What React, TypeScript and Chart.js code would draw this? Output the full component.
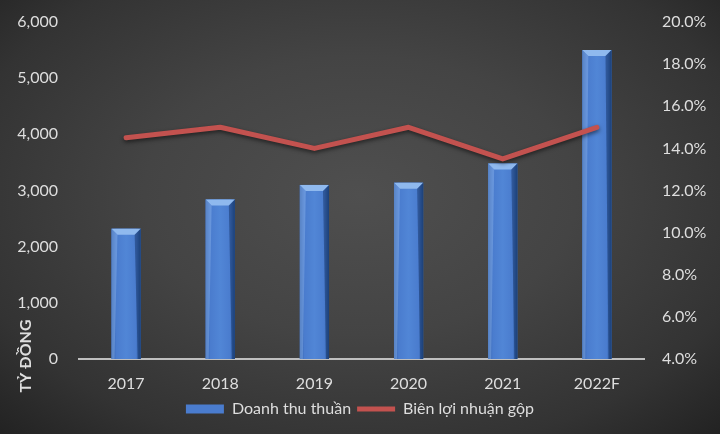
import React, { useEffect, useRef } from "react";
import { Chart, registerables } from "chart.js";

Chart.register(...registerables);

const categories = ["2017", "2018", "2019", "2020", "2021", "2022F"];
const revenue = [2320, 2840, 3100, 3140, 3480, 5500];
const grossMargin = [14.5, 15.0, 14.0, 15.0, 13.5, 15.0];
const revenueLabel = "Doanh thu thuần";
const marginLabel = "Biên lợi nhuận gộp";
const yTitle = "TỶ ĐỒNG";

const TEXT = "#dedede";
const FONT = "Lato";

const barStylePlugin = {
  id: "barStyle",
  afterDatasetDraw(chart: any, args: any) {
    if (args.index === 1) {
      chart.ctx.restore();
      return;
    }
    if (args.index !== 0) return;
    const ctx = chart.ctx;
    const meta = chart.getDatasetMeta(0);
    ctx.save();
    meta.data.forEach((el: any) => {
      const w = el.width;
      const l = el.x - w / 2;
      const r = el.x + w / 2;
      const t = el.y;
      const b = el.base;
      const g = ctx.createLinearGradient(l, 0, r, 0);
      g.addColorStop(0, "#2e5ca6");
      g.addColorStop(0.16, "#4a7cce");
      g.addColorStop(0.5, "#5186d6");
      g.addColorStop(0.84, "#4a7cce");
      g.addColorStop(1, "#24508f");
      ctx.fillStyle = g;
      ctx.fillRect(l, t, w, b - t);
      const bv = 6;
      ctx.fillStyle = "#8fb9ee";
      ctx.beginPath();
      ctx.moveTo(l, t);
      ctx.lineTo(r, t);
      ctx.lineTo(r - bv, t + bv);
      ctx.lineTo(l + bv, t + bv);
      ctx.closePath();
      ctx.fill();
      ctx.fillStyle = "rgba(140,180,235,0.45)";
      ctx.beginPath();
      ctx.moveTo(l, t);
      ctx.lineTo(l + bv, t + bv);
      ctx.lineTo(l + bv * 0.5, b);
      ctx.lineTo(l, b);
      ctx.closePath();
      ctx.fill();
      ctx.fillStyle = "rgba(20,50,100,0.5)";
      ctx.beginPath();
      ctx.moveTo(r, t);
      ctx.lineTo(r - bv, t + bv);
      ctx.lineTo(r - bv * 0.5, b);
      ctx.lineTo(r, b);
      ctx.closePath();
      ctx.fill();
    });
    ctx.restore();
  },
  beforeDatasetDraw(chart: any, args: any) {
    if (args.index !== 1) return;
    const ctx = chart.ctx;
    ctx.save();
    ctx.shadowColor = "rgba(0,0,0,0.55)";
    ctx.shadowBlur = 4;
    ctx.shadowOffsetY = 2;
  },
};

const axisDecor = {
  id: "axisDecor",
  afterDraw(chart: any) {
    const ctx = chart.ctx;
    const area = chart.chartArea;
    ctx.save();
    ctx.translate(area.left - 53, area.bottom - 3);
    ctx.rotate(-Math.PI / 2);
    ctx.font = `bold 16px ${FONT}`;
    ctx.fillStyle = TEXT;
    ctx.textAlign = "center";
    ctx.textBaseline = "middle";
    ctx.fillText(yTitle, 0, 0);
    ctx.restore();
  },
};

export default function App() {
  const ref = useRef<HTMLCanvasElement | null>(null);
  useEffect(() => {
    if (!ref.current) return;
    Chart.defaults.font.family = FONT;
    const chart = new Chart(ref.current, {
      type: "bar",
      data: {
        labels: categories,
        datasets: [
          {
            type: "bar",
            label: revenueLabel,
            data: revenue,
            backgroundColor: "#4a7cce",
            borderWidth: 0,
            yAxisID: "y",
            order: 1,
            categoryPercentage: 1,
            barPercentage: 0.31,
            pointStyle: "rect",
          } as any,
          {
            type: "line",
            label: marginLabel,
            data: grossMargin,
            borderColor: "#c3524f",
            backgroundColor: "#c3524f",
            borderWidth: 5,
            pointRadius: 0,
            tension: 0,
            borderCapStyle: "round",
            borderJoinStyle: "round",
            yAxisID: "y1",
            order: 0,
            pointStyle: "line",
          } as any,
        ],
      },
      options: {
        responsive: false,
        animation: false,
        layout: { padding: { top: 22, bottom: 7, left: 0, right: 0 } },
        plugins: {
          tooltip: { enabled: false },
          legend: {
            position: "bottom",
            labels: {
              usePointStyle: true,
              pointStyleWidth: 38,
              boxHeight: 9,
              color: TEXT,
              font: { size: 16, family: FONT },
              padding: 6,
              sort: (a: any, b: any) => a.datasetIndex - b.datasetIndex,
            },
          },
        },
        scales: {
          x: {
            grid: { display: false, drawTicks: false },
            border: { display: true, color: "#bfbfbf", width: 2 },
            ticks: { color: TEXT, font: { size: 16, family: FONT }, padding: 15 },
            afterFit: (s: any) => {
              s.height = 36;
            },
          },
          y: {
            position: "left",
            min: 0,
            max: 6000,
            grid: { display: false, drawTicks: false },
            border: { display: false },
            ticks: {
              stepSize: 1000,
              color: TEXT,
              font: { size: 16, family: FONT },
              padding: 21,
              callback: (v: any) => Number(v).toLocaleString("en-US"),
            },
            afterFit: (s: any) => {
              s.width = 79;
              s.paddingTop = 10;
              s.paddingBottom = 10;
            },
          },
          y1: {
            position: "right",
            min: 4,
            max: 20,
            grid: { display: false, drawTicks: false },
            border: { display: false },
            ticks: {
              stepSize: 2,
              color: TEXT,
              font: { size: 16, family: FONT },
              padding: 18,
              callback: (v: any) => `${Number(v).toFixed(1)}%`,
            },
            afterFit: (s: any) => {
              s.width = 76;
              s.paddingTop = 10;
              s.paddingBottom = 10;
            },
          },
        },
      },
      plugins: [barStylePlugin, axisDecor],
    });
    return () => chart.destroy();
  }, []);

  return (
    <div
      style={{
        position: "absolute",
        left: 0,
        top: 0,
        width: 720,
        height: 434,
        background:
          "radial-gradient(ellipse 75% 80% at 50% 45%, #4f4f4f 0%, #444 40%, #333 75%, #1f1f1f 100%)",
      }}
    >
      <canvas ref={ref} width={720} height={434} style={{ display: "block" }} />
    </div>
  );
}
